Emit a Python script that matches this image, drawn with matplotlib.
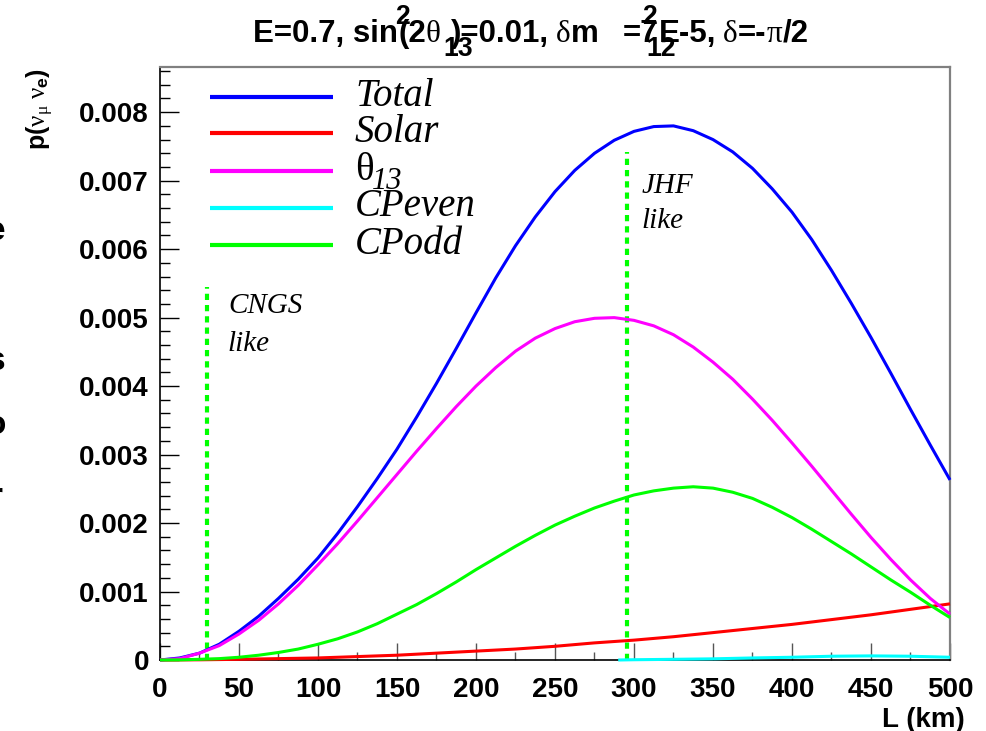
import matplotlib
matplotlib.use("Agg")
import matplotlib.pyplot as plt
from matplotlib.lines import Line2D
from matplotlib.ticker import MultipleLocator, FuncFormatter
from matplotlib.transforms import IdentityTransform

# ---- oscillation probability contributions vs baseline L (km) ----
L_grid = [0, 12.5, 25, 37.5, 50, 62.5, 75, 87.5, 100, 112.5, 125, 137.5, 150,
          162.5, 175, 187.5, 200, 212.5, 225, 237.5, 250, 262.5, 275, 287.5, 300,
          312.5, 325, 337.5, 350, 362.5, 375, 387.5, 400, 412.5, 425, 437.5, 450,
          462.5, 475, 487.5, 500]

p_total = [0, 0.00003, 0.00010, 0.00023, 0.00042, 0.00064, 0.00090, 0.00118,
           0.00149, 0.00185, 0.00224, 0.00265, 0.00308, 0.00355, 0.00404, 0.00455,
           0.00507, 0.00558, 0.00605, 0.00647, 0.00684, 0.00715, 0.00740, 0.00759,
           0.00772, 0.00779, 0.00780, 0.00773, 0.00760, 0.00742, 0.00718, 0.00688,
           0.00654, 0.00614, 0.00569, 0.00521, 0.00471, 0.00419, 0.00366, 0.00314,
           0.00263]

p_theta13 = [0, 0.00002, 0.00010, 0.00021, 0.00038, 0.00058, 0.00082, 0.00109,
             0.00139, 0.00170, 0.00203, 0.00237, 0.00271, 0.00305, 0.00338, 0.00370,
             0.00400, 0.00427, 0.00451, 0.00470, 0.00484, 0.00494, 0.00499, 0.00500,
             0.00496, 0.00488, 0.00475, 0.00457, 0.00435, 0.00410, 0.00381, 0.00350,
             0.00317, 0.00283, 0.00248, 0.00213, 0.00179, 0.00147, 0.00117, 0.00090,
             0.00067]

p_cpodd = [0, 0.000002, 0.00001, 0.00002, 0.00004, 0.00007, 0.00011, 0.00016,
           0.00023, 0.00031, 0.00041, 0.00053, 0.00067, 0.00081, 0.00097, 0.00114,
           0.00132, 0.00149, 0.00166, 0.00182, 0.00197, 0.00210, 0.00222, 0.00232,
           0.00241, 0.00247, 0.00251, 0.00253, 0.00251, 0.00245, 0.00236, 0.00223,
           0.00208, 0.00191, 0.00173, 0.00155, 0.00136, 0.00117, 0.00099, 0.00080,
           0.00062]

L_solar = [0, 25, 50, 75, 100, 125, 150, 175, 200, 225, 250, 275, 300, 325, 350,
           375, 400, 425, 450, 475, 500]
p_solar = [0, 0.000003, 0.00001, 0.00002, 0.00003, 0.00005, 0.00007, 0.00010,
           0.00013, 0.00016, 0.00020, 0.00025, 0.00029, 0.00034, 0.00040, 0.00046,
           0.00052, 0.00059, 0.00066, 0.00074, 0.00082]

L_cpeven = [290, 300, 325, 350, 375, 400, 425, 450, 475, 500]
p_cpeven = [0, 0.000004, 0.00001, 0.000017, 0.00003, 0.00004, 0.000055, 0.00006,
            0.000055, 0.00004]

series_names = ["Total", "Solar", "θ|13", "CPeven", "CPodd"]
series_colors = ["#0000ff", "#ff0000", "#ff00ff", "#00ffff", "#00ff00"]

# experiment baselines (km) and marker heights
exp_names = ["CNGS", "JHF"]
exp_L = [30, 295.5]
exp_height = [0.00545, 0.00742]

x_ticks = [0, 50, 100, 150, 200, 250, 300, 350, 400, 450, 500]
y_ticks = [0, 0.001, 0.002, 0.003, 0.004, 0.005, 0.006, 0.007, 0.008]

plt.rcParams["mathtext.fontset"] = "custom"
plt.rcParams["mathtext.rm"] = "Liberation Serif"
plt.rcParams["mathtext.it"] = "Liberation Serif:italic"
plt.rcParams["mathtext.bf"] = "Liberation Sans:bold"

W, H = 987, 731
fig = plt.figure(figsize=(W / 100, H / 100), dpi=100)
AX_L, AX_R, AX_T, AX_B = 160, 950, 67, 660
ax = fig.add_axes([AX_L / W, 1 - AX_B / H, (AX_R - AX_L) / W, (AX_B - AX_T) / H])
ax.set_xlim(0, 500)
ax.set_ylim(0, 0.00866)


def axfrac(px, py):
    return ((px - AX_L) / (AX_R - AX_L), (AX_B - py) / (AX_B - AX_T))


def pix(px, py):
    return (px, H - py)


data = [(L_grid, p_total), (L_solar, p_solar), (L_grid, p_theta13),
        (L_cpeven, p_cpeven), (L_grid, p_cpodd)]
lines = []
for (xs, ys), c in zip(data, series_colors):
    ln, = ax.plot(xs, ys, color=c, lw=2.2, clip_on=False, zorder=3,
                  solid_capstyle="butt", solid_joinstyle="round")
    lines.append(ln)

# baseline markers
for name, Lx, hgt in zip(exp_names, exp_L, exp_height):
    ax.plot([Lx, Lx], [0, hgt], color="#00ff00", lw=3.0,
            dashes=(1.5, 1.2), dash_capstyle="butt", zorder=2.8, clip_on=False)

lab = dict(family="Liberation Serif", style="italic", fontsize=21,
           va="baseline", ha="left")
ax.text(43, 0.00507, exp_names[0], **lab)
ax.text(43, 0.00451, "like", **lab)
ax.text(304.5, 0.00682, exp_names[1], **lab)
ax.text(304.5, 0.00631, "like", **lab)

# legend drawn as key line + label rows
leg_rows = [97, 133, 171, 208, 245]
for ln, name, ry in zip(lines, series_names, leg_rows):
    x0, y0 = axfrac(210, ry)
    x1, _ = axfrac(333, ry)
    ax.add_line(Line2D([x0, x1], [y0, y0], transform=ax.transAxes,
                       color=ln.get_color(), lw=3.0, solid_capstyle="butt"))
    tx, ty = axfrac(355, ry + 8.5)
    if "|" in name:
        sym, subs = name.split("|")
        ax.text(tx, ty, sym, transform=ax.transAxes, family="Liberation Serif",
                fontsize=28, va="baseline", ha="left")
        sx, sy = axfrac(372, ry + 18)
        ax.text(sx, sy, subs, transform=ax.transAxes, family="Liberation Serif",
                style="italic", fontsize=22, va="baseline", ha="left")
    else:
        ax.text(tx, ty, name, transform=ax.transAxes, family="Liberation Serif",
                style="italic", fontsize=28, va="baseline", ha="left")

# axes styling
for side in ["left", "bottom"]:
    ax.spines[side].set_color("black")
    ax.spines[side].set_linewidth(1.2)
for side in ["top", "right"]:
    ax.spines[side].set_color("#808080")
    ax.spines[side].set_linewidth(1.6)

ax.set_xticks(x_ticks)
ax.set_yticks(y_ticks)
ax.xaxis.set_minor_locator(MultipleLocator(25))
ax.yaxis.set_minor_locator(MultipleLocator(0.0002))
ax.xaxis.set_major_formatter(FuncFormatter(lambda v, p: f"{v:g}"))
ax.yaxis.set_major_formatter(FuncFormatter(lambda v, p: "0" if v == 0 else f"{v:.3f}"))
ax.tick_params(axis="x", which="major", direction="in", length=12.5, width=1,
               color="#555555", pad=12, labelsize=20)
ax.tick_params(axis="x", which="minor", direction="in", length=6, width=1,
               color="#555555")
ax.tick_params(axis="y", which="major", direction="in", length=14, width=1,
               color="black", pad=8, labelsize=20)
ax.tick_params(axis="y", which="minor", direction="in", length=7, width=1,
               color="black")
for t in ax.get_xticklabels() + ax.get_yticklabels():
    t.set_fontweight("bold")
    t.set_family("Liberation Sans")

# axis titles
fig.text(*pix(965, 727), "L (km)", transform=IdentityTransform(),
         family="Liberation Sans", weight="bold", fontsize=20,
         ha="right", va="baseline")
fig.text(*pix(40, 68), r"p($\mathrm{\nu_{\mu}\ \nu}_{\mathbf{e}}$)",
         transform=IdentityTransform(), family="Liberation Sans", weight="bold",
         fontsize=18, rotation=90, ha="center", va="top")

# clipped glyph fragments at the left edge
for ch, gy in zip(["e", "s", "o", "r"], [232, 362, 425, 498]):
    fig.text(*pix(-4, gy), ch, transform=IdentityTransform(),
             family="Liberation Sans", weight="bold", fontsize=24,
             ha="center", va="center")

# title assembled piece by piece
renderer = fig.canvas.get_renderer()
TS = 22.5
sans = dict(family="Liberation Sans", weight="bold", fontsize=TS)
serif = dict(family="Liberation Serif", weight="normal", fontsize=TS)
base_y = 42
cur = [253]
pos = {}


def put(s, props, gap=0):
    cur[0] += gap
    t = fig.text(*pix(cur[0], base_y), s, transform=IdentityTransform(),
                 ha="left", va="baseline", **props)
    cur[0] += t.get_window_extent(renderer).width
    return t


put("E=0.7, sin", sans)
pos["paren"] = cur[0]
put("(2", sans)
put("θ", serif)
pos["after_theta"] = cur[0]
put(")=0.01,", sans, gap=10)
put("δ", serif, gap=7)
put("m", sans)
put("=7", sans, gap=24)
pos["after7"] = cur[0]
put("E-5,", sans, gap=1)
put("δ", serif, gap=7)
put("=-", sans)
put("π", serif)
put("/2", sans)

sub = dict(family="Liberation Sans", weight="bold", fontsize=TS * 0.85)
fig.text(*pix(pos["paren"] - 3, base_y - 18), "2", transform=IdentityTransform(),
         ha="left", va="baseline", **sub)
fig.text(*pix(pos["after_theta"] + 3, base_y + 14), "13", transform=IdentityTransform(),
         ha="left", va="baseline", **sub)
fig.text(*pix(pos["after7"] - 16, base_y - 18), "2", transform=IdentityTransform(),
         ha="left", va="baseline", **sub)
fig.text(*pix(pos["after7"] - 12, base_y + 14), "12", transform=IdentityTransform(),
         ha="left", va="baseline", **sub)

fig.savefig("out.png", dpi=100)
